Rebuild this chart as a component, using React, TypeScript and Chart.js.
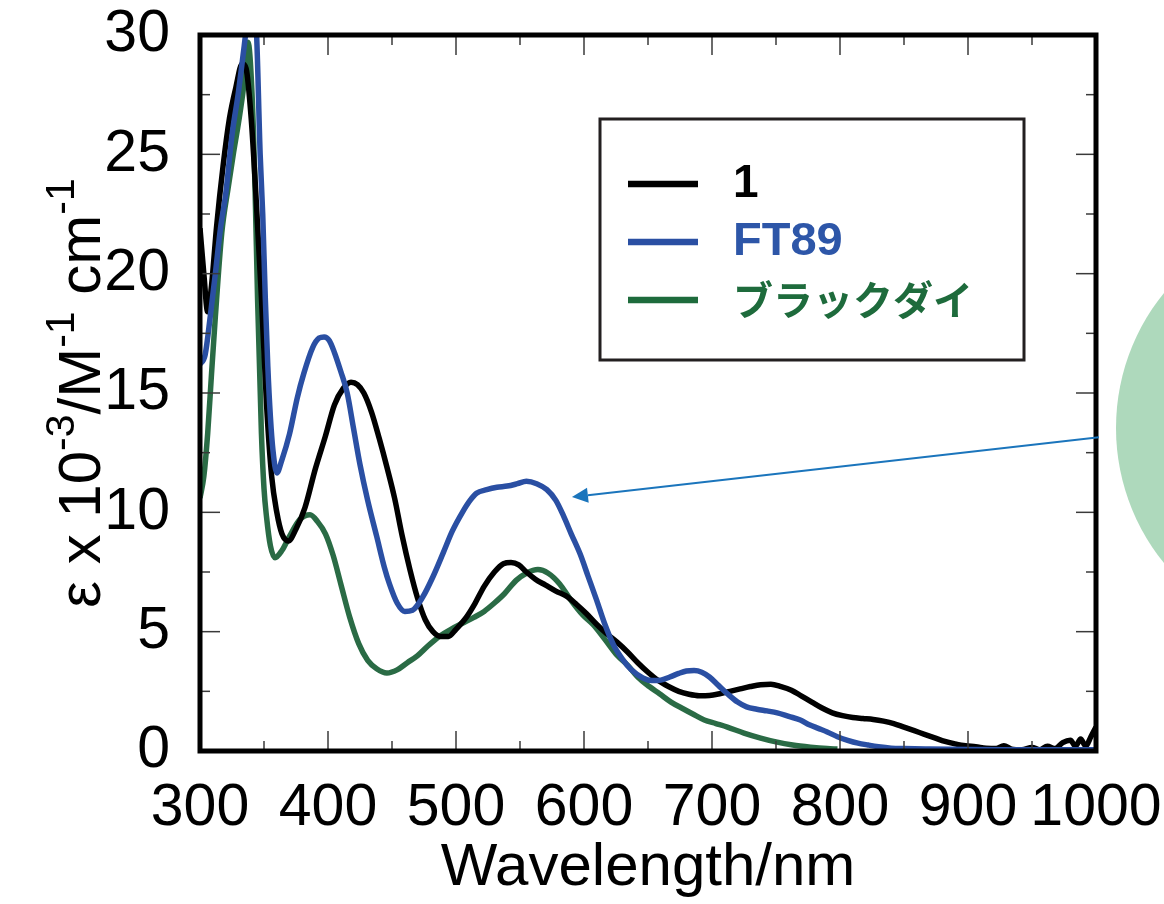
import React, { useEffect, useRef } from 'react';
import { Chart, registerables } from 'chart.js';

Chart.register(...registerables);

const W = 1164;
const H = 904;
const FONT = "'Liberation Sans', Arial, sans-serif";

// ---------- data ----------
const seriesLabels = ['1', 'FT89', 'ブラックダイ'];
const xTickValues = [300, 400, 500, 600, 700, 800, 900, 1000];
const yTickValues = [0, 5, 10, 15, 20, 25, 30];
const xTitle = 'Wavelength/nm';

const wl1 = [300, 303, 306, 309, 313, 318, 323, 328, 333, 336, 340, 344, 348, 352, 356, 360, 364, 369, 375, 382, 390, 398, 405, 412, 418, 423, 428, 434, 440, 446, 452, 458, 464, 470, 476, 482, 488, 494, 500, 508, 515, 522, 530, 537, 543, 549, 555, 562, 570, 578, 586, 594, 602, 610, 618, 626, 634, 642, 650, 658, 666, 674, 682, 690, 698, 706, 714, 722, 730, 738, 746, 754, 762, 770, 778, 786, 794, 802, 810, 818, 826, 834, 842, 850, 858, 866, 874, 882, 890, 898, 906, 914, 922, 928, 934, 942, 950, 956, 962, 968, 974, 980, 984, 988, 992, 996, 1000];
const eps1 = [21.9, 20.0, 18.4, 19.5, 22.0, 24.5, 26.5, 27.8, 28.8, 28.6, 26.5, 23.0, 19.0, 14.5, 11.5, 10.0, 9.1, 8.8, 9.3, 10.2, 11.8, 13.2, 14.5, 15.2, 15.45, 15.35, 15.0, 14.2, 13.1, 11.9, 10.6, 9.0, 7.6, 6.4, 5.5, 5.0, 4.8, 4.8, 5.1, 5.6, 6.2, 6.9, 7.5, 7.85, 7.9, 7.8, 7.5, 7.2, 6.95, 6.7, 6.5, 6.15, 5.75, 5.3, 4.9, 4.55, 4.15, 3.7, 3.3, 2.95, 2.7, 2.5, 2.38, 2.32, 2.33, 2.4, 2.5, 2.6, 2.7, 2.78, 2.8, 2.7, 2.55, 2.3, 2.05, 1.8, 1.6, 1.48, 1.4, 1.36, 1.32, 1.25, 1.15, 1.0, 0.85, 0.7, 0.55, 0.4, 0.3, 0.22, 0.18, 0.12, 0.1, 0.22, 0.08, 0.05, 0.15, 0.05, 0.2, 0.1, 0.35, 0.45, 0.2, 0.5, 0.2, 0.6, 1.0];

const wl2 = [300, 304, 308, 312, 316, 320, 325, 330, 334, 338, 341, 344, 347, 349, 351, 353, 355, 357, 360, 364, 370, 376, 381, 388, 393, 397, 401, 405, 410, 415, 420, 425, 431, 438, 444, 448, 454, 460, 466, 474, 482, 490, 497, 505, 511, 516, 524, 532, 540, 548, 555, 563, 571, 578, 584, 590, 597, 603, 610, 616, 623, 630, 637, 646, 653, 660, 667, 674, 680, 686, 692, 698, 705, 712, 720, 727, 735, 743, 751, 760, 769, 776, 783, 790, 798, 806, 814, 822, 830, 840, 850, 870, 900, 930, 960, 1000];
const eps2 = [16.2, 16.6, 18.2, 20.0, 21.9, 23.3, 25.8, 27.6, 29.3, 31.0, 31.5, 30.3, 25.0, 22.5, 19.0, 16.1, 14.0, 12.6, 11.65, 12.2, 13.3, 14.8, 15.8, 16.9, 17.3, 17.35, 17.2, 16.7, 15.9, 15.0, 13.5, 12.0, 10.5, 9.0, 7.7, 7.0, 6.2, 5.85, 5.9, 6.45, 7.3, 8.3, 9.2, 10.0, 10.5, 10.8, 10.95, 11.05, 11.1, 11.2, 11.3, 11.2, 10.95, 10.5, 9.85, 9.1, 8.25, 7.35, 6.3, 5.35, 4.45, 3.85, 3.4, 3.06, 2.95, 2.97, 3.1, 3.25, 3.35, 3.37, 3.3, 3.1, 2.75, 2.4, 2.05, 1.85, 1.75, 1.68, 1.6, 1.45, 1.3, 1.1, 0.95, 0.8, 0.6, 0.45, 0.33, 0.25, 0.18, 0.12, 0.1, 0.08, 0.06, 0.05, 0.05, 0.05];

const wl3 = [300, 303, 306, 309, 312, 317, 322, 326, 330, 334, 337.5, 340.6, 343, 345, 348, 350, 352, 355, 358.6, 364, 370, 378, 386, 392, 398, 404, 410, 417, 424, 431, 438, 446, 454, 462, 470, 478, 487, 496, 505, 514, 522, 530, 538, 547, 555, 564, 572, 581, 590, 599, 607, 616, 626, 634, 642, 651, 659, 668, 677, 685, 694, 703, 712, 725, 738, 750, 763, 777, 790, 798];
const eps3 = [10.6, 11.5, 13.3, 15.8, 18.2, 21.7, 23.6, 25.0, 26.3, 27.8, 29.7, 27.6, 23.6, 18.9, 13.3, 11.0, 9.8, 8.6, 8.1, 8.4, 9.0, 9.7, 9.9, 9.6, 9.1, 8.2, 7.0, 5.6, 4.5, 3.8, 3.45, 3.27, 3.4, 3.7, 4.0, 4.4, 4.8, 5.1, 5.35, 5.6, 5.85, 6.2, 6.6, 7.15, 7.45, 7.6, 7.45, 7.0, 6.3, 5.7, 5.3, 4.7, 4.0, 3.6, 3.1, 2.7, 2.4, 2.05, 1.78, 1.55, 1.3, 1.15, 1.0, 0.75, 0.54, 0.38, 0.25, 0.16, 0.1, 0.08];

// arrow (data coords on the chart scales)
const arrowFrom = [1002.3, 13.15];
const arrowTo = [590.6, 10.64];

const colors = {
  black: '#000000',
  blue: '#2a4fa3',
  green: '#2a6b45',
  legendBlue: '#2d56a8',
  legendGreen: '#1e6b3c',
  arrow: '#1b75bc',
  circle: '#aed9bc',
};

const toPts = (xs: number[], ys: number[]) => xs.map((x, i) => ({ x, y: ys[i] }));

const framePlugin = {
  id: 'frameTicks',
  afterDatasetsDraw(chart: any) {
    const { ctx, chartArea } = chart;
    const { left, right, top, bottom } = chartArea;
    const xs = chart.scales.x;
    const ys = chart.scales.y;
    ctx.save();
    ctx.strokeStyle = '#3a3a3a';
    ctx.lineWidth = 1.5;
    const line = (a: number, b: number, c: number, d: number) => {
      ctx.beginPath();
      ctx.moveTo(a, b);
      ctx.lineTo(c, d);
      ctx.stroke();
    };
    for (let v = 300; v <= 1000; v += 50) {
      const px = xs.getPixelForValue(v);
      const L = v % 100 === 0 ? 20 : 10;
      line(px, bottom, px, bottom - L);
      line(px, top, px, top + L);
    }
    for (let v = 0; v <= 30; v += 2.5) {
      const py = ys.getPixelForValue(v);
      const L = v % 5 === 0 ? 20 : 10;
      line(left, py, left + L, py);
      line(right, py, right - L, py);
    }
    ctx.strokeStyle = '#000';
    ctx.lineWidth = 5;
    ctx.strokeRect(left, top, right - left, bottom - top);

    // circle decoration (outside plot)
    ctx.fillStyle = colors.circle;
    ctx.beginPath();
    ctx.arc(1330, 428, 214, 0, Math.PI * 2);
    ctx.fill();

    // arrow
    const x1 = xs.getPixelForValue(arrowFrom[0]);
    const y1 = ys.getPixelForValue(arrowFrom[1]);
    const x2 = xs.getPixelForValue(arrowTo[0]);
    const y2 = ys.getPixelForValue(arrowTo[1]);
    const ang = Math.atan2(y2 - y1, x2 - x1);
    const headL = 16;
    const headW = 7.5;
    ctx.strokeStyle = colors.arrow;
    ctx.fillStyle = colors.arrow;
    ctx.lineWidth = 2;
    const bx = x2 - headL * Math.cos(ang);
    const by = y2 - headL * Math.sin(ang);
    line(x1, y1, bx, by);
    ctx.beginPath();
    ctx.moveTo(x2, y2);
    ctx.lineTo(bx + headW * Math.sin(ang), by - headW * Math.cos(ang));
    ctx.lineTo(bx - headW * Math.sin(ang), by + headW * Math.cos(ang));
    ctx.closePath();
    ctx.fill();

    // legend box
    ctx.strokeStyle = '#231f20';
    ctx.lineWidth = 3;
    ctx.strokeRect(600, 119, 424, 241);
    const rows = [
      { y: 184, line: colors.black, text: colors.black, font: `bold 46px ${FONT}` },
      { y: 242, line: colors.blue, text: colors.legendBlue, font: `bold 47px ${FONT}` },
      { y: 300, line: colors.legendGreen, text: colors.legendGreen, font: `bold 40px 'Noto Sans CJK JP', sans-serif` },
    ];
    rows.forEach((r, i) => {
      ctx.strokeStyle = r.line;
      ctx.lineWidth = 6.5;
      line(628, r.y, 698, r.y);
      ctx.fillStyle = r.text;
      ctx.font = r.font;
      ctx.textBaseline = 'middle';
      ctx.textAlign = 'left';
      ctx.fillText(seriesLabels[i], 733, r.y);
    });

    // y-axis title with superscripts
    const parts: [string, boolean][] = [
      ['ε x 10', false], ['-3', true], ['/M', false], ['-1', true], [' cm', false], ['-1', true],
    ];
    const mainFont = `60px ${FONT}`;
    const supFont = `41px ${FONT}`;
    let total = 0;
    parts.forEach(([t, s]) => {
      ctx.font = s ? supFont : mainFont;
      total += ctx.measureText(t).width;
    });
    ctx.translate(100, (top + bottom) / 2);
    ctx.rotate(-Math.PI / 2);
    ctx.fillStyle = '#000';
    ctx.textBaseline = 'alphabetic';
    ctx.textAlign = 'left';
    let cx = -total / 2;
    parts.forEach(([t, s]) => {
      ctx.font = s ? supFont : mainFont;
      ctx.fillText(t, cx, s ? -26 : 0);
      cx += ctx.measureText(t).width;
    });
    ctx.restore();
  },
};

export default function App() {
  const ref = useRef<HTMLCanvasElement | null>(null);
  useEffect(() => {
    if (!ref.current) return;
    const chart = new Chart(ref.current, {
      type: 'line',
      data: {
        datasets: [
          {
            label: seriesLabels[1],
            data: toPts(wl2, eps2),
            borderColor: colors.blue,
            borderWidth: 5.5,
            pointRadius: 0,
            cubicInterpolationMode: 'monotone',
            order: 0,
          },
          {
            label: seriesLabels[0],
            data: toPts(wl1, eps1),
            borderColor: colors.black,
            borderWidth: 5.5,
            pointRadius: 0,
            cubicInterpolationMode: 'monotone',
            order: 1,
          },
          {
            label: seriesLabels[2],
            data: toPts(wl3, eps3),
            borderColor: colors.green,
            borderWidth: 5.5,
            pointRadius: 0,
            cubicInterpolationMode: 'monotone',
            order: 2,
          },
        ],
      },
      options: {
        responsive: false,
        animation: false,
        layout: { padding: { top: 35, right: 68, left: 0, bottom: 0 } },
        plugins: { legend: { display: false }, tooltip: { enabled: false } },
        scales: {
          x: {
            type: 'linear',
            min: 300,
            max: 1000,
            afterBuildTicks: (s: any) => { s.ticks = xTickValues.map((v) => ({ value: v })); },
            afterFit: (s: any) => {
              s.height = 153;
              s.paddingLeft = 0;
              s.paddingRight = 0;
              s.paddingTop = 0;
              s.paddingBottom = 0;
            },
            grid: { display: false, drawTicks: false },
            border: { display: false },
            ticks: {
              color: '#000',
              font: { family: FONT, size: 59 },
              padding: 22,
              maxRotation: 0,
              autoSkip: false,
              callback: (v: any) => String(v),
            },
            title: {
              display: true,
              text: xTitle,
              color: '#000',
              font: { family: FONT, size: 60 },
              padding: { top: 0, bottom: 0 },
            },
          },
          y: {
            type: 'linear',
            min: 0,
            max: 30,
            afterBuildTicks: (s: any) => { s.ticks = yTickValues.map((v) => ({ value: v })); },
            afterFit: (s: any) => {
              s.width = 200;
              s.paddingLeft = 0;
              s.paddingRight = 0;
              s.paddingTop = 0;
              s.paddingBottom = 0;
            },
            grid: { display: false, drawTicks: false },
            border: { display: false },
            ticks: {
              color: '#000',
              font: { family: FONT, size: 59 },
              padding: 30,
              callback: (v: any) => String(v),
            },
          },
        },
      },
      plugins: [framePlugin],
    } as any);
    return () => chart.destroy();
  }, []);
  return (
    <div style={{ position: 'absolute', left: 0, top: 0, width: W, height: H, background: '#fff' }}>
      <canvas ref={ref} width={W} height={H} style={{ width: W, height: H, display: 'block' }} />
    </div>
  );
}
